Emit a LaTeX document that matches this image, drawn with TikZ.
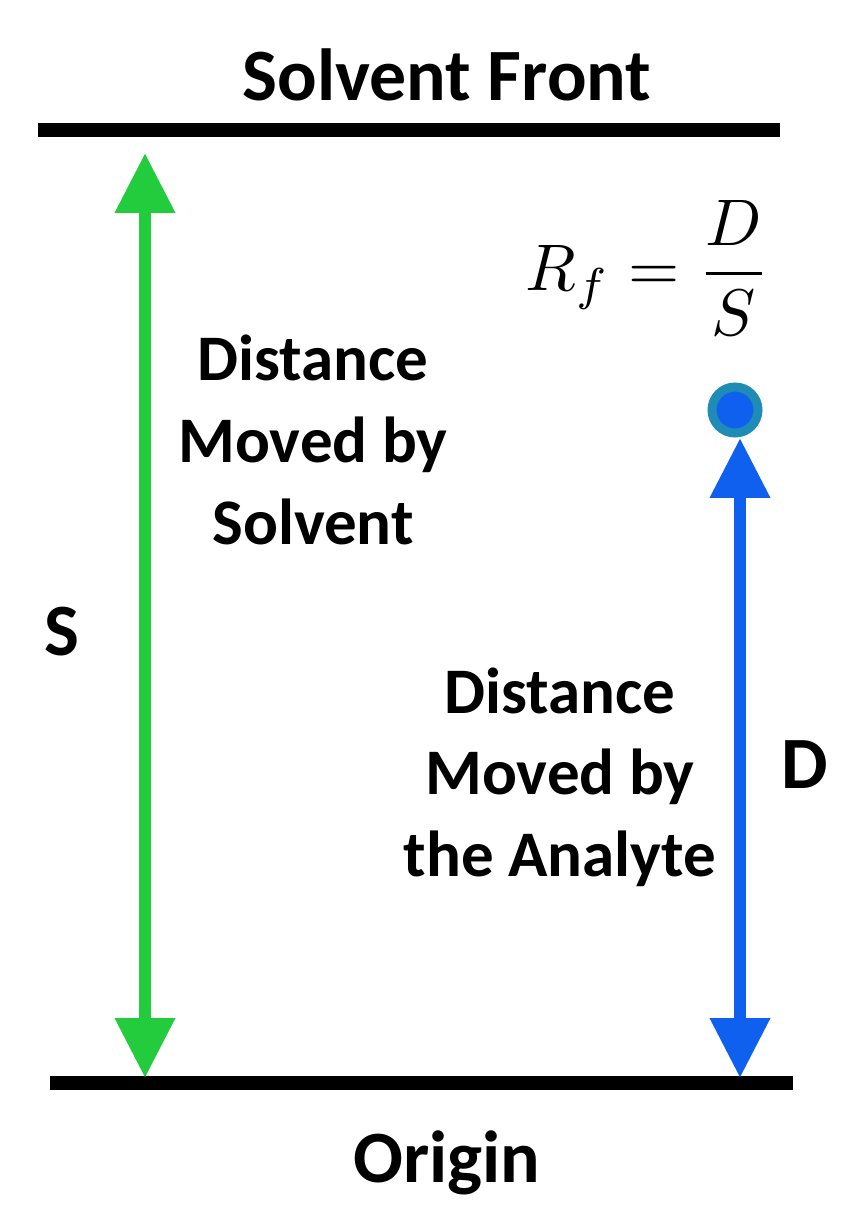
\documentclass[tikz,border=0pt]{standalone}
\usepackage{fontspec}
\setsansfont{Carlito}
\usetikzlibrary{arrows.meta}
\definecolor{grn}{RGB}{34,204,60}
\definecolor{blu}{RGB}{16,96,240}
\definecolor{teal2}{RGB}{30,140,180}
\tikzset{
  lbl/.style={font=\sffamily\bfseries\fontsize{37}{46.5}\selectfont, align=center, inner sep=0pt},
  big/.style={font=\sffamily\bfseries\fontsize{42}{48}\selectfont, inner sep=0pt},
  bar/.style={line width=0.28cm},
  dbl/.style={line width=0.24cm, {Triangle[width=1.15cm,length=1.2cm]}-{Triangle[width=1.15cm,length=1.2cm]}}
}
\begin{document}
\begin{tikzpicture}[x=0.02cm,y=-0.02cm]
\useasboundingbox (0,0) rectangle (860,1222);
\coordinate (t1) at (38,130); \coordinate (t2) at (780,130);
\coordinate (b1) at (50,1083); \coordinate (b2) at (793,1083);
\draw[bar] (t1) -- (t2);
\draw[bar] (b1) -- (b2);
\node[big] (front) at (447,75) {Solvent Front};
\node[big] (origin) at (447,1163) {Origin};
\coordinate (gs) at (145,153); \coordinate (ge) at (145,1078);
\draw[dbl, grn] (gs) -- (ge);
\coordinate (bs) at (740,438); \coordinate (be) at (740,1078);
\draw[dbl, blu] (bs) -- (be);
\node[circle, fill=blu, draw=teal2, line width=0.18cm, minimum size=0.92cm, inner sep=0pt] (dot) at (735,410) {};
\node[lbl] (sol) at (313,440) {Distance\\Moved by\\Solvent};
\node[lbl] (ana) at (560,777) {Distance\\Moved by\\the Analyte};
\node[big] (S) at (62,632) {S};
\node[big] (D) at (805,765) {D};
\node[inner sep=0pt] (rf) at (648,268) {\scalebox{3.75}{$\displaystyle R_f=\frac{D}{S}$}};
\end{tikzpicture}
\end{document}
